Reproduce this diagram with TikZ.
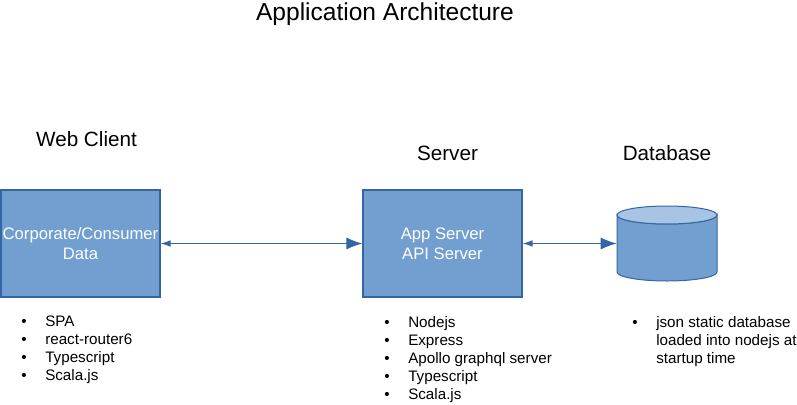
\documentclass[tikz,border=0pt]{standalone}
\usepackage{fontspec}
\setmainfont{Liberation Sans}
\usetikzlibrary{arrows.meta,positioning}
\definecolor{boxfill}{HTML}{729FCF}
\definecolor{boxline}{HTML}{3465A4}
\definecolor{capfill}{HTML}{A7C4E5}
\newcommand{\itm}[1]{\makebox[18pt][l]{\textbullet}#1}
\newcommand{\cnt}[1]{\hspace*{18pt}#1}

\begin{document}
\begin{tikzpicture}[x=0.75pt, y=-0.75pt, >=Latex,
 box/.style={draw=boxline, fill=boxfill, line width=0.9pt, minimum width=119.25pt, minimum height=80.25pt,
   inner sep=0pt, align=center, text=white, font=\fontsize{12.5}{15}\selectfont},
 head/.style={font=\fontsize{15.5}{18}\selectfont, anchor=base, inner sep=0pt},
 lst/.style={font=\fontsize{11.4}{13.5}\selectfont, align=left, anchor=north west, inner sep=0pt},
 link/.style={draw=boxline, line width=0.75pt, {Latex[length=7.5pt,width=5pt]}-{Latex[length=12pt,width=9pt]}}]
\useasboundingbox (0,0) rectangle (797,404);
\node[font=\fontsize{18.4}{22}\selectfont, anchor=base, inner sep=0pt] (title) at (385,20) {Application Architecture};
% boxes and headings
\node[box] (client) at (80.5,243.5) {Corporate/Consumer\\Data};
\node[box] (server) at (442.5,243.5) {App Server\\API Server};
\node[head] (clienthd) at (86.5,146) {Web Client};
\node[head] (serverhd) at (447.5,160) {Server};
\node[head] (dbhd) at (667,160) {Database};
% database cylinder
\path[draw=boxline, fill=boxfill, line width=0.75pt] (617,215) -- (617,272) arc (180:0:50 and 9) -- (717,215) arc (0:180:50 and 9) -- cycle;
\draw[boxline, fill=capfill, line width=0.75pt] (667,215) ellipse (50 and 9);
\node[minimum width=75pt, minimum height=56.25pt, inner sep=0pt] (db) at (667,243.5) {};
\draw[link] (client.east) -- (server.west);
\draw[link] (server.east) -- (db.west);
% lists
\node[lst] (clientls) at (21,316) {\itm{SPA}\\\itm{react-router6}\\\itm{Typescript}\\\itm{Scala.js}};
\node[lst] (serverls) at (384,316) {\itm{Nodejs}\\\itm{Express}\\\itm{Apollo graphql server}\\\itm{Typescript}\\\itm{Scala.js}};
\node[lst] (dbls) at (632,316) {\itm{json static database}\\\cnt{loaded into nodejs at}\\\cnt{startup time}};
\end{tikzpicture}
\end{document}
